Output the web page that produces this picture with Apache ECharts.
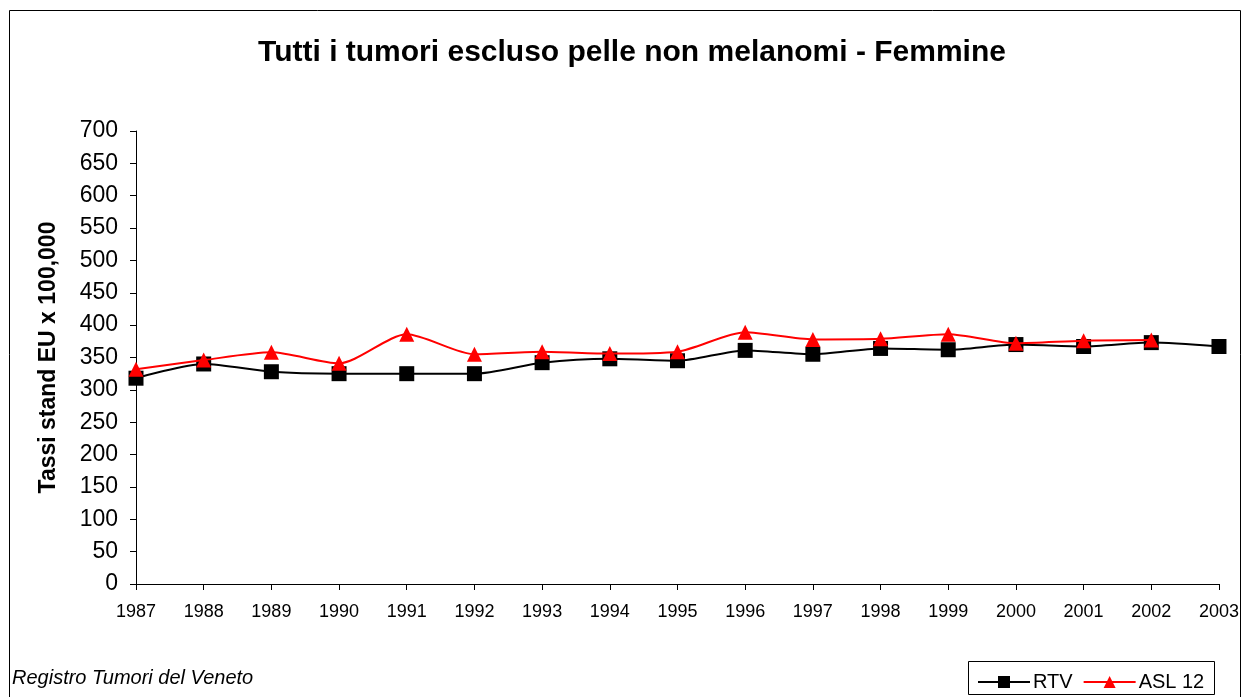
<!DOCTYPE html>
<html>
<head>
<meta charset="utf-8">
<script src="https://cdn.jsdelivr.net/npm/echarts@6/dist/echarts.min.js"></script>
<style>
  html, body { margin: 0; padding: 0; background: #fff; }
  #main { width: 1242px; height: 697px; }
</style>
</head>
<body>
<div id="main"></div>
<script>
var years = ['1987', '1988', '1989', '1990', '1991', '1992', '1993', '1994', '1995',
    '1996', '1997', '1998', '1999', '2000', '2001', '2002', '2003'];
var rtv = [318, 340, 328, 325, 325, 325, 342, 348, 345, 361, 355, 364, 362, 370, 367, 373, 367];
var asl12 = [332, 346, 358, 341, 386, 355, 359, 356, 359, 389, 378, 379, 386, 372, 376, 377, null];

var chartDom = document.getElementById('main');
var myChart = echarts.init(chartDom);
var option;

option = {
    animation: false,
    textStyle: { fontFamily: 'Liberation Sans, Arial, sans-serif', color: '#000' },
    title: {
        text: 'Tutti i tumori escluso pelle non melanomi - Femmine',
        left: 627,
        textAlign: 'center',
        top: 33,
        textStyle: { fontSize: 30, fontWeight: 'bold', color: '#000', fontFamily: 'Liberation Sans, Arial, sans-serif' }
    },
    graphic: [
        {
            type: 'rect',
            shape: { x: 9.5, y: 10.5, width: 1231, height: 700 },
            style: { fill: 'none', stroke: '#000', lineWidth: 1 }
        },
        {
            type: 'text',
            left: 12,
            top: 668,
            style: { text: 'Registro Tumori del Veneto', fontSize: 20, fontStyle: 'italic', fill: '#000', fontFamily: 'Liberation Sans, Arial, sans-serif' }
        },
        {
            type: 'rect',
            shape: { x: 968.5, y: 661.5, width: 246, height: 33 },
            style: { fill: '#fff', stroke: '#000', lineWidth: 1 }
        }
    ],
    legend: {
        data: ['RTV', 'ASL 12'],
        left: 972,
        top: 667,
        itemWidth: 52,
        itemHeight: 15,
        itemGap: 10,
        textStyle: { fontSize: 20, color: '#000', padding: [0, 0, 0, -2] }
    },
    grid: { left: 136, right: 22, top: 131, bottom: 113 },
    xAxis: {
        type: 'category',
        data: years,
        boundaryGap: false,
        axisLine: { lineStyle: { color: '#000', width: 1 } },
        axisTick: { show: true, length: 6, alignWithLabel: true, lineStyle: { color: '#000' } },
        axisLabel: { fontSize: 18, color: '#000', margin: 19 },
        splitLine: { show: false }
    },
    yAxis: {
        type: 'value',
        name: 'Tassi stand EU x 100,000',
        nameLocation: 'middle',
        nameRotate: 90,
        nameGap: 76,
        nameTextStyle: { fontSize: 23, fontWeight: 'bold', color: '#000' },
        min: 0,
        max: 700,
        interval: 50,
        axisLine: { show: true, lineStyle: { color: '#000', width: 1 } },
        axisTick: { show: true, length: 6, lineStyle: { color: '#000' } },
        axisLabel: { fontSize: 23, color: '#000', margin: 18 },
        splitLine: { show: false }
    },
    series: [
        {
            name: 'RTV',
            type: 'line',
            data: rtv,
            smooth: 0.25,
            symbol: 'rect',
            symbolSize: 15,
            itemStyle: { color: '#000' },
            lineStyle: { color: '#000', width: 2 },
            z: 2
        },
        {
            name: 'ASL 12',
            type: 'line',
            data: asl12,
            smooth: 0.25,
            symbol: 'triangle',
            symbolSize: 15,
            itemStyle: { color: '#ff0000' },
            lineStyle: { color: '#ff0000', width: 2 },
            z: 3
        }
    ]
};

option && myChart.setOption(option);
</script>
</body>
</html>
